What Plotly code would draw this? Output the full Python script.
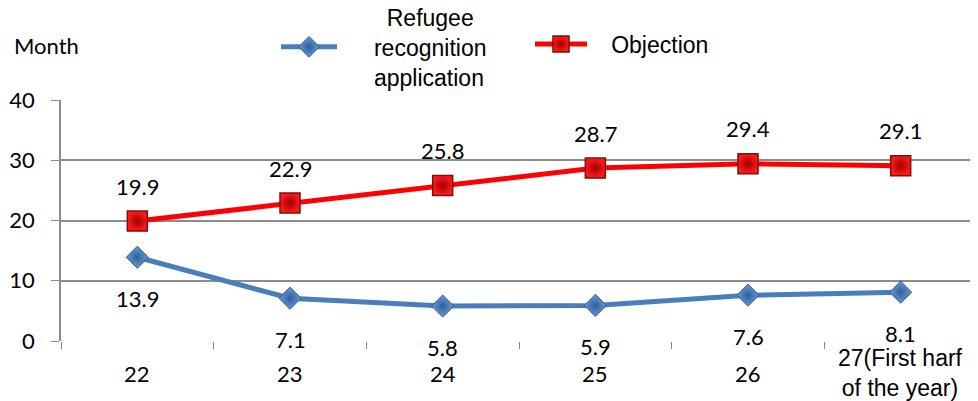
import plotly.graph_objects as go

categories = ["22", "23", "24", "25", "26", "27(First harf<br>of the year)"]
refugee = [13.9, 7.1, 5.8, 5.9, 7.6, 8.1]
objection = [19.9, 22.9, 25.8, 28.7, 29.4, 29.1]
y_ticks = [0, 10, 20, 30, 40]

NUM_FONT = "Lato"
TXT_FONT = "Liberation Sans"

# the page body adds an 8px offset; work in window pixel coordinates
OFF = 8
W, H = 978 - OFF, 401 - OFF
L, R, T, B = 61 - OFF, 1, 100 - OFF, 401 - 341
plot_w, plot_h = W - L - R, H - T - B

def px_x(p):
    return (p - OFF - L) / plot_w

def px_y(p):
    return (H - B - (p - OFF)) / plot_h

NB = "&nbsp;"
fig = go.Figure()
fig.add_trace(go.Scatter(
    x=categories, y=refugee,
    name=NB * 7 + "Refugee<br>" + NB * 5 + "recognition<br>" + NB * 5 + "application",
    mode="lines+markers", legend="legend",
    line=dict(color="#4A7EBB", width=5),
    marker=dict(symbol="diamond", size=17, color="#6A9BD8",
                gradient=dict(type="radial", color="#2E5F98"),
                line=dict(color="#2E5A8E", width=1)),
))
fig.add_trace(go.Scatter(
    x=categories, y=objection, name=NB * 3 + "Objection",
    mode="lines+markers", legend="legend2",
    line=dict(color="#FF0000", width=5),
    marker=dict(symbol="square", size=20, color="#FF1A1A",
                gradient=dict(type="radial", color="#A00000"),
                line=dict(color="#7A1010", width=1.5)),
))

annotations = []
for i, v in enumerate(objection):
    annotations.append(dict(x=i, y=v, xref="x", yref="y", text=f"{v}", showarrow=False,
                            yshift=35, font=dict(family=NUM_FONT, size=22, color="#000")))
for i, v in enumerate(refugee):
    annotations.append(dict(x=i, y=v, xref="x", yref="y", text=f"{v}", showarrow=False,
                            yshift=-41, font=dict(family=NUM_FONT, size=22, color="#000")))
for i, c in enumerate(categories):
    multi = "<br>" in c
    annotations.append(dict(x=i, y=px_y(373), xref="x", yref="paper", yanchor="middle",
                            xanchor="center",
                            text=c, showarrow=False, bgcolor="white" if multi else None,
                            font=dict(family=TXT_FONT if multi else NUM_FONT,
                                      size=23 if multi else 22, color="#000")))
annotations.append(dict(x=px_x(46), y=px_y(46), xref="paper", yref="paper", text="Month",
                        xanchor="center", yanchor="middle",
                        showarrow=False, font=dict(family=NUM_FONT, size=22, color="#000")))

legend_font = dict(family=TXT_FONT, size=23, color="#000")
fig.update_layout(
    width=W, height=H,
    margin=dict(l=L, r=R, t=T, b=B, autoexpand=False),
    paper_bgcolor="white", plot_bgcolor="white",
    showlegend=True,
    legend=dict(x=px_x(276), xanchor="left", y=px_y(47), yanchor="middle",
                font=legend_font, valign="middle", itemwidth=56,
                bgcolor="rgba(0,0,0,0)"),
    legend2=dict(x=px_x(530), xanchor="left", y=px_y(44), yanchor="middle",
                 font=legend_font, valign="middle", itemwidth=52,
                 bgcolor="rgba(0,0,0,0)"),
    annotations=annotations,
)

fig.update_xaxes(showgrid=False, showline=False, ticks="outside", tickson="boundaries",
                 ticklen=7, tickcolor="#888", showticklabels=False, zeroline=False,
                 range=[-0.5, 5.5])
fig.update_yaxes(range=[0, 40], tickvals=y_ticks, showgrid=True, gridcolor="#8C8C8C",
                 gridwidth=1.5, showline=True, linecolor="#8C8C8C", linewidth=1.5,
                 ticks="outside", ticklen=8, tickcolor="#8C8C8C", zeroline=False,
                 ticklabelstandoff=12,
                 tickfont=dict(family=NUM_FONT, size=22, color="#000"))

fig.write_html("out.html")
